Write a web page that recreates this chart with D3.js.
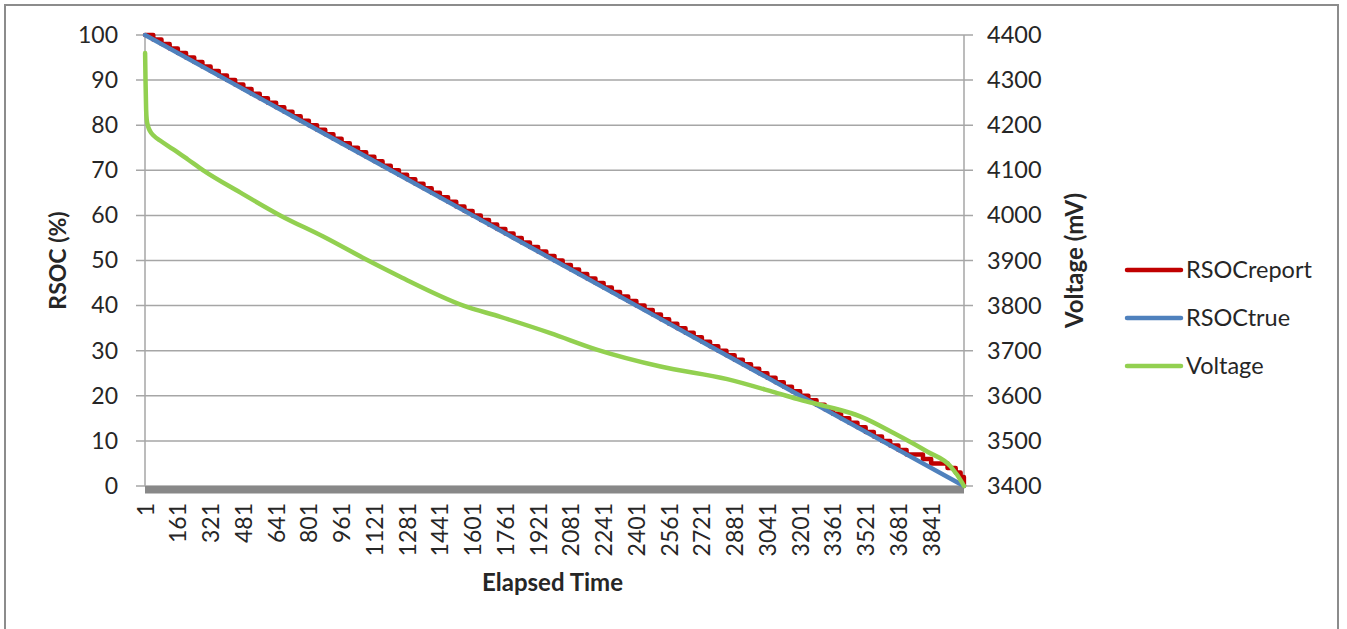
<!DOCTYPE html>
<html>
<head>
<meta charset="utf-8">
<script src="https://cdn.jsdelivr.net/npm/d3@7"></script>
<style>
  html, body { margin: 0; padding: 0; background: #fff; }
  svg { display: block; }
  text { font-family: Lato, "Open Sans", sans-serif; fill: #262626; }
</style>
</head>
<body>
<svg id="chart" width="1347" height="629"></svg>
<script>
// ---------------- data ----------------
const sampleCount = 4001;
const xTickLabels = [1,161,321,481,641,801,961,1121,1281,1441,1601,1761,1921,2081,2241,2401,2561,2721,2881,3041,3201,3361,3521,3681,3841];
const rsocTicks = [0,10,20,30,40,50,60,70,80,90,100];
const voltTicks = [3400,3500,3600,3700,3800,3900,4000,4100,4200,4300,4400];

// RSOCtrue readings
const trueTime  = [1, 401, 801, 1201, 1601, 2001, 2401, 2801, 3201, 3601, 4001];
const trueValue = [100, 90, 80, 70, 60, 50, 40, 30, 20, 10, 0];

// RSOCreport (integer steps)
const reportTime = [1,41,81,121,161,201,241,281,321,361,401,441,481,521,561,601,641,681,721,761,801,841,881,921,961,1001,1041,1081,1121,1161,1201,1241,1281,1321,1361,1401,1441,1481,1521,1561,1601,1641,1681,1721,1761,1801,1841,1881,1921,1961,2001,2041,2081,2121,2161,2201,2241,2281,2321,2361,2401,2441,2481,2521,2561,2601,2641,2681,2721,2761,2801,2841,2881,2921,2961,3001,3041,3081,3121,3161,3201,3241,3281,3321,3361,3401,3441,3481,3521,3561,3601,3641,3681,3721,3761,3801,3841,3881,3921,3961,3985,4001];
const reportValue = [100,99,98,97,96,95,94,93,92,91,90,89,88,87,86,85,84,83,82,81,80,79,78,77,76,75,74,73,72,71,70,69,68,67,66,65,64,63,62,61,60,59,58,57,56,55,54,53,52,51,50,49,48,47,46,45,44,43,42,41,40,39,38,37,36,35,34,33,32,31,30,29,28,27,26,25,24,23,22,21,20,19,18,17,16,15,14,13,12,11,10,9,8,7,7,6,5,5,4,3,2,0];

// Voltage readings (mV)
const voltTime  = [1, 3, 6, 9, 14, 25, 45, 74, 137, 210, 285, 465, 661, 871, 1086, 1247, 1556, 1737, 1981, 2211, 2519, 2845, 3089, 3202, 3334, 3497, 3660, 3823, 3937, 3994, 4001];
const voltValue = [4360, 4300, 4235, 4212, 4200, 4187, 4176, 4166, 4147, 4124, 4100, 4051, 4000, 3953, 3901, 3864, 3800, 3775, 3739, 3702, 3665, 3637, 3606, 3591, 3576, 3554, 3517, 3476, 3443, 3406, 3400];

const seriesNames = ["RSOCreport", "RSOCtrue", "Voltage"];
const seriesColors = ["#C00000", "#4F81BD", "#92D050"];

// ---------------- layout ----------------
const svg = d3.select("#chart");
const plot = {left: 145, right: 964, top: 35, bottom: 486};

const x = d3.scaleLinear().domain([0.5, sampleCount + 0.5]).range([plot.left, plot.right]);
const yL = d3.scaleLinear().domain([0, 100]).range([plot.bottom, plot.top]);
const yR = d3.scaleLinear().domain([3400, 4400]).range([plot.bottom, plot.top]);

// outer border
svg.append("rect").attr("x", 5).attr("y", 5).attr("width", 1333).attr("height", 640)
  .attr("fill", "none").attr("stroke", "#8c8c8c").attr("stroke-width", 2);

// gridlines
svg.append("g").selectAll("line").data(rsocTicks).join("line")
  .attr("x1", plot.left - 9).attr("x2", plot.right + 9)
  .attr("y1", d => yL(d)).attr("y2", d => yL(d))
  .attr("stroke", "#a6a6a6").attr("stroke-width", 1.5);

// axis lines
svg.append("line").attr("x1", plot.left).attr("x2", plot.left).attr("y1", plot.top).attr("y2", plot.bottom)
  .attr("stroke", "#a6a6a6").attr("stroke-width", 1.5);
svg.append("line").attr("x1", plot.right).attr("x2", plot.right).attr("y1", plot.top).attr("y2", plot.bottom)
  .attr("stroke", "#a6a6a6").attr("stroke-width", 1.5);

// dense category tick band
svg.append("rect").attr("x", plot.left).attr("y", plot.bottom)
  .attr("width", plot.right - plot.left).attr("height", 7.5).attr("fill", "#888888");

// left axis labels
const leftAxis = d3.axisLeft(yL).tickValues(rsocTicks).tickSize(0).tickPadding(27).tickFormat(d3.format("d"));
const gL = svg.append("g").attr("transform", `translate(${plot.left},0)`).call(leftAxis);
gL.select(".domain").remove();
gL.selectAll("text").style("font-size", "23px").attr("fill", "#262626").style("font-family", "Lato");

// right axis labels
const rightAxis = d3.axisRight(yR).tickValues(voltTicks).tickSize(0).tickPadding(23).tickFormat(d3.format("d"));
const gR = svg.append("g").attr("transform", `translate(${plot.right},0)`).call(rightAxis);
gR.select(".domain").remove();
gR.selectAll("text").style("font-size", "23.5px").attr("fill", "#262626").style("font-family", "Lato");

// bottom axis labels (rotated)
const bottomAxis = d3.axisBottom(x).tickValues(xTickLabels).tickSize(0).tickFormat(d3.format("d"));
const gB = svg.append("g").attr("transform", `translate(0,${plot.bottom})`).call(bottomAxis);
gB.select(".domain").remove();
gB.selectAll("text")
  .style("font-size", "23px").style("font-family", "Lato").attr("fill", "#262626")
  .attr("text-anchor", "end").attr("dy", "0.35em")
  .attr("transform", "translate(0,17) rotate(-90)")
  .attr("x", 0).attr("y", 0);

// lines
const lineReport = d3.line().x((d, i) => x(reportTime[i])).y(d => yL(d)).curve(d3.curveStepAfter);
const lineTrue = d3.line().x((d, i) => x(trueTime[i])).y(d => yL(d));
const lineVolt = d3.line().x((d, i) => x(voltTime[i])).y(d => yR(d)).curve(d3.curveMonotoneX);

svg.append("path").datum(reportValue).attr("d", lineReport)
  .attr("fill", "none").attr("stroke", seriesColors[0]).attr("stroke-width", 4.5)
  .attr("stroke-linejoin", "round").attr("stroke-linecap", "round");
svg.append("path").datum(trueValue).attr("d", lineTrue)
  .attr("fill", "none").attr("stroke", seriesColors[1]).attr("stroke-width", 4.5)
  .attr("stroke-linejoin", "round").attr("stroke-linecap", "round");
svg.append("path").datum(voltValue).attr("d", lineVolt)
  .attr("fill", "none").attr("stroke", seriesColors[2]).attr("stroke-width", 4.5)
  .attr("stroke-linejoin", "round").attr("stroke-linecap", "round");

// axis titles
svg.append("text").attr("transform", `translate(66,${(plot.top + plot.bottom) / 2}) rotate(-90)`)
  .attr("text-anchor", "middle").style("font-size", "23px").style("font-weight", "bold").text("RSOC (%)");
svg.append("text").attr("transform", `translate(1083,${(plot.top + plot.bottom) / 2}) rotate(-90)`)
  .attr("text-anchor", "middle").style("font-size", "24px").style("font-weight", "bold").text("Voltage (mV)");
svg.append("text").attr("x", (plot.left + plot.right) / 2 - 2).attr("y", 591)
  .attr("text-anchor", "middle").style("font-size", "24px").style("font-weight", "bold").text("Elapsed Time");

// legend
const legend = svg.append("g").attr("transform", "translate(1127,270)");
const li = legend.selectAll("g").data(seriesNames).join("g").attr("transform", (d, i) => `translate(0,${i * 48})`);
li.append("line").attr("x1", 0).attr("x2", 54).attr("y1", 0).attr("y2", 0)
  .attr("stroke", (d, i) => seriesColors[i]).attr("stroke-width", 4.5).attr("stroke-linecap", "round");
li.append("text").attr("x", 59).attr("dy", "0.35em").style("font-size", "23.5px").text(d => d);
</script>
</body>
</html>
